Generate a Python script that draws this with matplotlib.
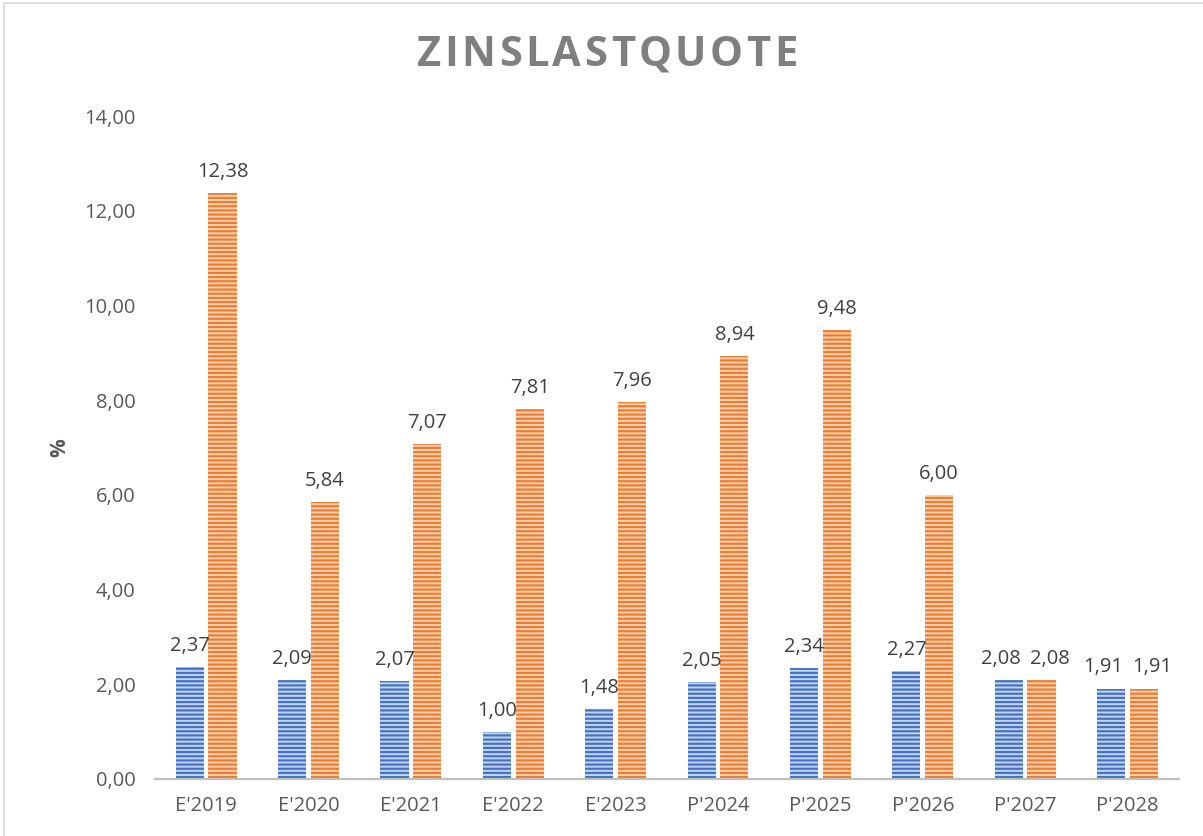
import matplotlib.pyplot as plt
import numpy as np
from matplotlib.patches import Rectangle

plt.rcParams['font.family'] = ['Open Sans', 'DejaVu Sans']

# Daten
jahre = ["E'2019", "E'2020", "E'2021", "E'2022", "E'2023",
         "P'2024", "P'2025", "P'2026", "P'2027", "P'2028"]
blau = [2.37, 2.09, 2.07, 1.00, 1.48, 2.05, 2.34, 2.27, 2.08, 1.91]
orange = [12.38, 5.84, 7.07, 7.81, 7.96, 8.94, 9.48, 6.00, 2.08, 1.91]
y_ticks = [0, 2, 4, 6, 8, 10, 12, 14]

plt.rcParams['hatch.linewidth'] = 1.6

fig = plt.figure(figsize=(12.03, 8.36), dpi=100)
ax = fig.add_axes([0.1288, 0.0682, 0.851, 0.793])

x = np.arange(len(jahre))
w = 0.275
off = 0.16

b1 = ax.bar(x - off, blau, w, facecolor='#C5D5F0', edgecolor='#4472C4',
            hatch='----', linewidth=0)
b2 = ax.bar(x + off, orange, w, facecolor='#F9D2B5', edgecolor='#ED7D31',
            hatch='----', linewidth=0)

def fmt(v):
    return f'{v:.2f}'.replace('.', ',')

# Beschriftungen; bei fast gleichen Werten etwas auseinanderschieben
for i in range(len(jahre)):
    eng = abs(blau[i] - orange[i]) < 0.6
    for r, v, s in [(b1[i], blau[i], -1), (b2[i], orange[i], 1)]:
        dx = 6 * s if eng else 0
        ax.annotate(fmt(v), (r.get_x() + r.get_width() / 2, v),
                    xytext=(dx, 8), textcoords='offset points',
                    ha='center', va='bottom', fontsize=14.5, color='#404040')

ax.set_xlim(-0.5, len(jahre) - 0.5)
ax.set_ylim(0, 14)
ax.set_yticks(y_ticks)
ax.set_yticklabels([fmt(v) for v in y_ticks])
ax.set_xticks(x)
ax.set_xticklabels(jahre)
ax.tick_params(axis='both', length=0, labelsize=14.5, colors='#595959')
ax.tick_params(axis='x', pad=12)
ax.tick_params(axis='y', pad=14)

for s in ['top', 'right', 'left']:
    ax.spines[s].set_visible(False)
ax.spines['bottom'].set_color('#BFBFBF')
ax.spines['bottom'].set_linewidth(1.6)

ax.set_ylabel('%', fontsize=15, color='#595959', fontweight='bold', labelpad=10)

# Titel mit Sperrung: Buchstaben einzeln setzen
titel = 'ZINSLASTQUOTE'
sperr = 3.5
r = fig.canvas.get_renderer()
buchst = [fig.text(0, 0.934, c, ha='left', va='center', fontsize=30,
                   fontweight='bold', color='#7F7F7F') for c in titel]
breiten = [t.get_window_extent(renderer=r).width for t in buchst]
gesamt = sum(breiten) + sperr * (len(titel) - 1)
xpos = 607 - gesamt / 2
for t, bw in zip(buchst, breiten):
    t.set_x(xpos / fig.bbox.width)
    xpos += bw + sperr

fig.patches.append(Rectangle((0.003, -0.01), 1.2, 1.0065, transform=fig.transFigure,
                             fill=False, edgecolor='#D9D9D9', linewidth=1.2))

fig.savefig('out.png', dpi=100)
